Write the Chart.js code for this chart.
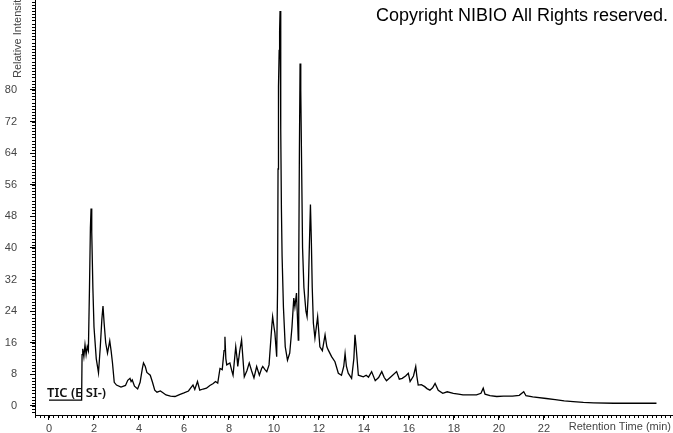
<!DOCTYPE html>
<html>
<head>
<meta charset="utf-8">
<script src="https://cdn.jsdelivr.net/npm/chart.js@4/dist/chart.umd.min.js"></script>
<style>
  html, body { margin: 0; padding: 0; background: #fff; }
  #wrap { width: 673px; height: 433px; }
</style>
</head>
<body>
<div id="wrap"><canvas id="tic" width="673" height="433"></canvas></div>
<script>
// ===== DATA =====
const retTime = [
  0, 1.45, 1.47, 1.5, 1.55, 1.6, 1.65, 1.7, 1.75, 1.8, 1.84, 1.87, 1.9, 1.95, 2.0, 2.1, 2.2,
  2.28, 2.35, 2.4, 2.45, 2.52, 2.6, 2.7, 2.76, 2.82, 2.9, 3.0, 3.2, 3.4, 3.5, 3.6, 3.65, 3.7,
  3.8, 3.94, 4.05, 4.15, 4.2, 4.28, 4.35, 4.5, 4.6, 4.7, 4.8, 4.95, 5.05, 5.2, 5.4, 5.6, 5.8,
  6.0, 6.2, 6.3, 6.4, 6.48, 6.6, 6.7, 6.85, 7.0, 7.15, 7.3, 7.4, 7.5, 7.6, 7.7, 7.78, 7.82,
  7.86, 7.9, 8.04, 8.12, 8.18, 8.25, 8.3, 8.36, 8.39, 8.48, 8.56, 8.62, 8.68, 8.8, 8.9, 9.0,
  9.11, 9.23, 9.35, 9.45, 9.5, 9.6, 9.68, 9.78, 9.85, 9.9, 9.94, 10.0, 10.04, 10.12, 10.16,
  10.18, 10.2, 10.23, 10.25, 10.27, 10.29, 10.31, 10.33, 10.36, 10.42, 10.5, 10.6, 10.7, 10.8,
  10.88, 10.93, 11.0, 11.06, 11.08, 11.1, 11.13, 11.16, 11.19, 11.23, 11.27, 11.33, 11.42,
  11.47, 11.52, 11.57, 11.62, 11.66, 11.7, 11.75, 11.82, 11.94, 12.04, 12.15, 12.27, 12.35,
  12.41, 12.56, 12.71, 12.86, 13.0, 13.1, 13.16, 13.22, 13.3, 13.45, 13.55, 13.6, 13.65,
  13.75, 13.97, 14.1, 14.2, 14.34, 14.5, 14.65, 14.79, 14.9, 15.0, 15.2, 15.45, 15.57, 15.7,
  15.85, 15.97, 16.05, 16.2, 16.3, 16.35, 16.41, 16.55, 16.7, 16.8, 16.93, 17.05, 17.16,
  17.3, 17.5, 17.7, 17.97, 18.2, 18.4, 18.7, 19.0, 19.2, 19.3, 19.38, 19.6, 19.9, 20.2, 20.6,
  20.9, 21.1, 21.2, 21.5, 22.1, 22.5, 22.9, 23.3, 23.75, 24.2, 25.1, 26.0, 27.0
];
const intensity = [
  1.5, 1.5, 13, 14.5, 12.5, 15.5, 13, 15, 14, 30, 45, 50, 44, 30, 20, 12, 8.4,
  15, 22, 25.3, 21, 16, 13.4, 16.5, 14, 11, 6, 5.3, 4.8, 5.2, 6.5, 7, 6.2, 6.6,
  5, 4.3, 6, 9.5, 10.9, 10, 8.5, 7.8, 6, 4, 3.5, 3.8, 3.4, 2.8, 2.5, 2.4, 2.9,
  3.3, 3.8, 4.6, 5.3, 4.2, 6.2, 4.0, 4.3, 4.5, 5.2, 5.7, 6.2, 5.8, 9.5, 9.2, 14, 17.5,
  12, 10.4, 10.9, 9, 7.8, 12, 15, 12, 10, 14, 16.7, 12, 7.4, 9, 10.9, 9,
  7.1, 10, 7.8, 9.5, 10, 9.2, 8.7, 10.4, 16, 20, 22.6, 20, 18.5, 12.5, 30,
  60, 81, 90, 95, 100, 85, 70, 50, 38, 25, 15, 11.6, 13.4, 20,
  27.3, 25.1, 28.6, 20, 16.7, 35, 65, 86.7, 80, 60, 40, 30, 24,
  22.6, 28, 40, 51, 42, 30, 21, 17.2, 22.6, 15, 14, 18, 15,
  14.2, 12.5, 11.2, 8.3, 7.8, 10, 13.3, 10, 8.3, 7, 12, 18, 15,
  7.8, 7.4, 7.8, 7.3, 8.7, 6.4, 7.2, 8.7, 7.2, 6.4, 7.4, 8.7, 6.8, 7.0,
  7.6, 8.3, 6.2, 7.6, 10, 7.5, 5.3, 5.4, 4.9, 4.4, 4.0, 4.6, 5.7,
  4.0, 3.2, 3.6, 3.2, 3.0, 2.8, 2.8, 2.8, 3.2, 4.5, 3.0, 2.6, 2.4, 2.5, 2.5,
  2.7, 3.6, 2.6, 2.3, 1.9, 1.6, 1.3, 1.1, 0.9, 0.8, 0.7, 0.7, 0.7
];
const xTicks = [0, 2, 4, 6, 8, 10, 12, 14, 16, 18, 20, 22];
const yTicks = [0, 8, 16, 24, 32, 40, 48, 56, 64, 72, 80];

const labelFont = { family: "'Liberation Sans', Arial, sans-serif", size: 11 };
const labelColor = "#444";

// ===== MINOR TICKS + FREE TEXT =====
const decor = {
  id: "decor",
  afterDraw(chart) {
    const { ctx, chartArea: a, scales: { x, y } } = chart;
    ctx.save();
    ctx.strokeStyle = "#000";
    ctx.lineWidth = 1;
    ctx.beginPath();
    for (let i = Math.ceil(x.min / 0.2); i * 0.2 <= x.max; i++) {
      const px = Math.round(x.getPixelForValue(i * 0.2)) + 0.5;
      ctx.moveTo(px, a.bottom);
      ctx.lineTo(px, a.bottom + 3);
    }
    for (let i = Math.ceil(y.min / 0.8); i * 0.8 <= y.max; i++) {
      const py = Math.round(y.getPixelForValue(i * 0.8)) + 0.5;
      ctx.moveTo(a.left, py);
      ctx.lineTo(a.left - 3, py);
    }
    ctx.stroke();

    ctx.fillStyle = labelColor;
    ctx.font = "11px 'Liberation Sans', Arial, sans-serif";
    ctx.textAlign = "right";
    ctx.textBaseline = "middle";
    ctx.fillText("Retention Time (min)", 671, 427);

    ctx.save();
    ctx.translate(18, 78);
    ctx.rotate(-Math.PI / 2);
    ctx.textAlign = "left";
    ctx.fillText("Relative Intensity", 0, 0);
    ctx.restore();

    ctx.fillStyle = "#000";
    ctx.font = "18px 'Liberation Sans', Arial, sans-serif";
    ctx.textAlign = "left";
    ctx.textBaseline = "alphabetic";
    ctx.fillText("Copyright NIBIO All Rights reserved.", 376, 21);

    ctx.fillStyle = "#111";
    ctx.font = "600 13px 'Noto Sans', sans-serif";
    ctx.fillText("TIC (E SI-)", 47, 397);
    ctx.restore();
  }
};

// ===== CHART =====
new Chart(document.getElementById("tic"), {
  type: "line",
  data: {
    datasets: [{
      data: retTime.map((t, i) => ({ x: t, y: intensity[i] })),
      borderColor: "#000",
      borderWidth: 1.3,
      pointRadius: 0,
      tension: 0,
      fill: false
    }]
  },
  options: {
    responsive: false,
    animation: false,
    devicePixelRatio: 1,
    layout: { padding: { top: 0, right: 1, bottom: 0, left: 0 } },
    plugins: { legend: { display: false }, tooltip: { enabled: false } },
    scales: {
      x: {
        type: "linear",
        min: -0.622,
        max: 27.69,
        afterBuildTicks: s => { s.ticks = xTicks.map(v => ({ value: v })); },
        afterFit: s => { s.height = 18; s.paddingLeft = 0; s.paddingRight = 0; },
        ticks: { font: labelFont, color: labelColor, padding: 2, maxRotation: 0, autoSkip: false },
        grid: { drawOnChartArea: false, drawTicks: true, tickLength: 5, tickColor: "#000" },
        border: { display: true, color: "#000", width: 1 }
      },
      y: {
        min: -2.28,
        max: 102.78,
        afterBuildTicks: s => { s.ticks = yTicks.map(v => ({ value: v })); },
        afterFit: s => { s.width = 35; s.paddingTop = 0; s.paddingBottom = 0; },
        ticks: { font: labelFont, color: labelColor, padding: 13, autoSkip: false },
        grid: { drawOnChartArea: false, drawTicks: true, tickLength: 5, tickColor: "#000" },
        border: { display: true, color: "#000", width: 1 }
      }
    }
  },
  plugins: [decor]
});
</script>
</body>
</html>
